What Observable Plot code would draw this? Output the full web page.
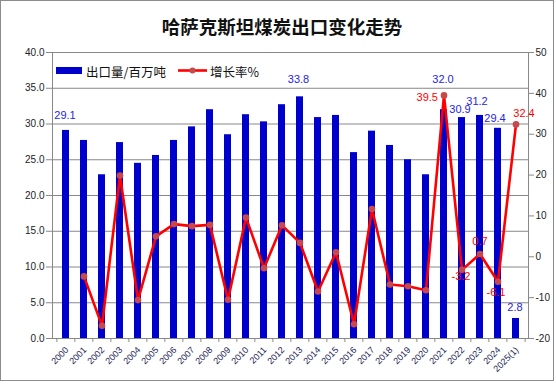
<!DOCTYPE html>
<html>
<head>
<meta charset="utf-8">
<script src="https://cdn.jsdelivr.net/npm/d3@7"></script>
<script src="https://cdn.jsdelivr.net/npm/@observablehq/plot@0.6"></script>
<style>
  html, body { margin: 0; padding: 0; background: #fff; }
  #wrap { position: relative; width: 556px; height: 384px; overflow: hidden; font-family: "Liberation Sans", Arial, sans-serif; }
  #border { position: absolute; left: 0; top: 0; width: 552px; height: 379px; border: 1.5px solid #8c8c8c; pointer-events: none; }
  #title { position: absolute; left: 0; width: 564px; top: 12px; text-align: center; font-family: "Noto Sans CJK SC", sans-serif; font-size: 18.5px; font-weight: bold; color: #111; line-height: 28px; }
  #legend { position: absolute; left: 0; top: 0; }
  #chart { position: absolute; left: 0; top: 0; }
</style>
</head>
<body>
<div id="wrap">
  <div id="chart"></div>
  <div id="title">哈萨克斯坦煤炭出口变化走势</div>
  <svg id="legend" width="300" height="100"></svg>
  <div id="border"></div>
</div>
<script>
const years = ["2000","2001","2002","2003","2004","2005","2006","2007","2008","2009","2010","2011","2012","2013","2014","2015","2016","2017","2018","2019","2020","2021","2022","2023","2024","2025(1)"];
const exportsVol = [29.1,27.7,22.9,27.4,24.5,25.6,27.7,29.6,32.0,28.5,31.3,30.3,32.7,33.8,30.9,31.2,26.0,29.0,27.0,25.0,22.9,32.0,30.9,31.2,29.4,2.8];
const growth = [null,-4.8,-16.9,19.9,-10.6,5.0,8.0,7.5,7.8,-10.5,9.6,-2.8,7.7,3.4,-8.5,1.1,-16.5,11.7,-6.8,-7.2,-8.2,39.5,-3.2,0.7,-6.1,32.4];
const leftTicks = [0,5,10,15,20,25,30,35,40];
const rightTicks = [-20,-10,0,10,20,30,40,50];
const seriesNames = ["出口量/百万吨","增长率%"];

const BLUE = "#0000cc", RED = "#ff0000", MARK = "#c6494b", GRID = "#888888", LBLUE = "#2424e6";
const rMin = -20, rMax = 50, lMax = 40;
const toLeft = g => (g - rMin) * lMax / (rMax - rMin);
const fromLeft = v => v * (rMax - rMin) / lMax + rMin;

const rows = years.map((y, i) => ({year: y, v: exportsVol[i], g: growth[i]}));
const gRows = rows.filter(d => d.g != null).map(d => ({...d, gy: toLeft(d.g)}));
const pick = (arr, ys) => arr.filter(d => ys.includes(d.year));
const barLabel = (ys, dx, dy) => Plot.text(pick(rows, ys), {x: "year", y: "v", text: d => d.v.toFixed(1), dx, dy, fontSize: 11, fill: LBLUE});
const gLabel = (ys, dx, dy, textAnchor = "middle") => Plot.text(pick(gRows, ys), {x: "year", y: "gy", text: d => d.g.toFixed(1), dx, dy, textAnchor, fontSize: 11, fill: RED});

const chart = Plot.plot({
  width: 556, height: 384,
  marginLeft: 52, marginRight: 28, marginTop: 52, marginBottom: 46,
  style: {fontFamily: "'Liberation Sans', Arial, sans-serif", background: "transparent"},
  x: {type: "band", domain: years, paddingInner: 0.62, paddingOuter: 0.31, axis: null},
  y: {domain: [0, lMax], axis: null},
  marks: [
    Plot.gridY(leftTicks, {stroke: GRID, strokeOpacity: 1}),
    Plot.barY(rows, {x: "year", y: "v", fill: BLUE}),
    Plot.frame({stroke: GRID}),
    Plot.axisY(leftTicks, {anchor: "left", tickFormat: d => d.toFixed(1), tickSize: 6, tickPadding: 2, fontSize: 10, stroke: GRID, fill: "#222"}),
    Plot.axisY(rightTicks.map(toLeft), {anchor: "right", tickFormat: d => String(Math.round(fromLeft(d))), tickSize: 5, tickPadding: 2, fontSize: 10, stroke: GRID, fill: "#222"}),
    // category boundary ticks
    Plot.ruleX(rows, {x: "year", dx: -476 / 52, y1: 0, y2: -0.55, stroke: GRID}),
    Plot.ruleX(rows.slice(-1), {x: "year", dx: 476 / 52, y1: 0, y2: -0.55, stroke: GRID}),
    Plot.text(rows, {x: "year", y: 0, text: "year", dy: 10, dx: 1, rotate: -45, textAnchor: "end", fontSize: 9, fill: "#1c2455"}),
    Plot.line(gRows, {x: "year", y: "gy", stroke: RED, strokeWidth: 2.6}),
    Plot.dot(gRows, {x: "year", y: "gy", r: 3.3, fill: MARK, stroke: null}),
    // bar value labels
    barLabel(["2000"], -1, -15),
    barLabel(["2013"], -1.5, -17),
    barLabel(["2021"], -1, -30),
    barLabel(["2022"], -2, -8),
    barLabel(["2023"], -3, -14),
    barLabel(["2024"], -3, -10),
    barLabel(["2025(1)"], -1, -11),
    // growth labels
    gLabel(["2021"], -6, 2, "end"),
    gLabel(["2025(1)"], 8, -11),
    gLabel(["2023"], 0, -12),
    gLabel(["2022"], -1, 7),
    gLabel(["2024"], -2, 11)
  ]
});
document.getElementById("chart").appendChild(chart);

// legend
const lg = d3.select("#legend");
lg.append("rect").attr("x", 56).attr("y", 67).attr("width", 26).attr("height", 7).attr("fill", BLUE);
lg.append("text").attr("x", 86).attr("y", 71).attr("dominant-baseline", "central")
  .attr("font-family", "'Noto Sans CJK SC', sans-serif").attr("font-size", 12.5).attr("fill", "#111").text(seriesNames[0]);
lg.append("line").attr("x1", 178).attr("x2", 207).attr("y1", 70.5).attr("y2", 70.5).attr("stroke", RED).attr("stroke-width", 2.6);
lg.append("circle").attr("cx", 192.5).attr("cy", 70.5).attr("r", 3).attr("fill", MARK);
lg.append("text").attr("x", 210).attr("y", 71).attr("dominant-baseline", "central")
  .attr("font-family", "'Noto Sans CJK SC', sans-serif").attr("font-size", 12.5).attr("fill", "#111").text(seriesNames[1]);
</script>
</body>
</html>
